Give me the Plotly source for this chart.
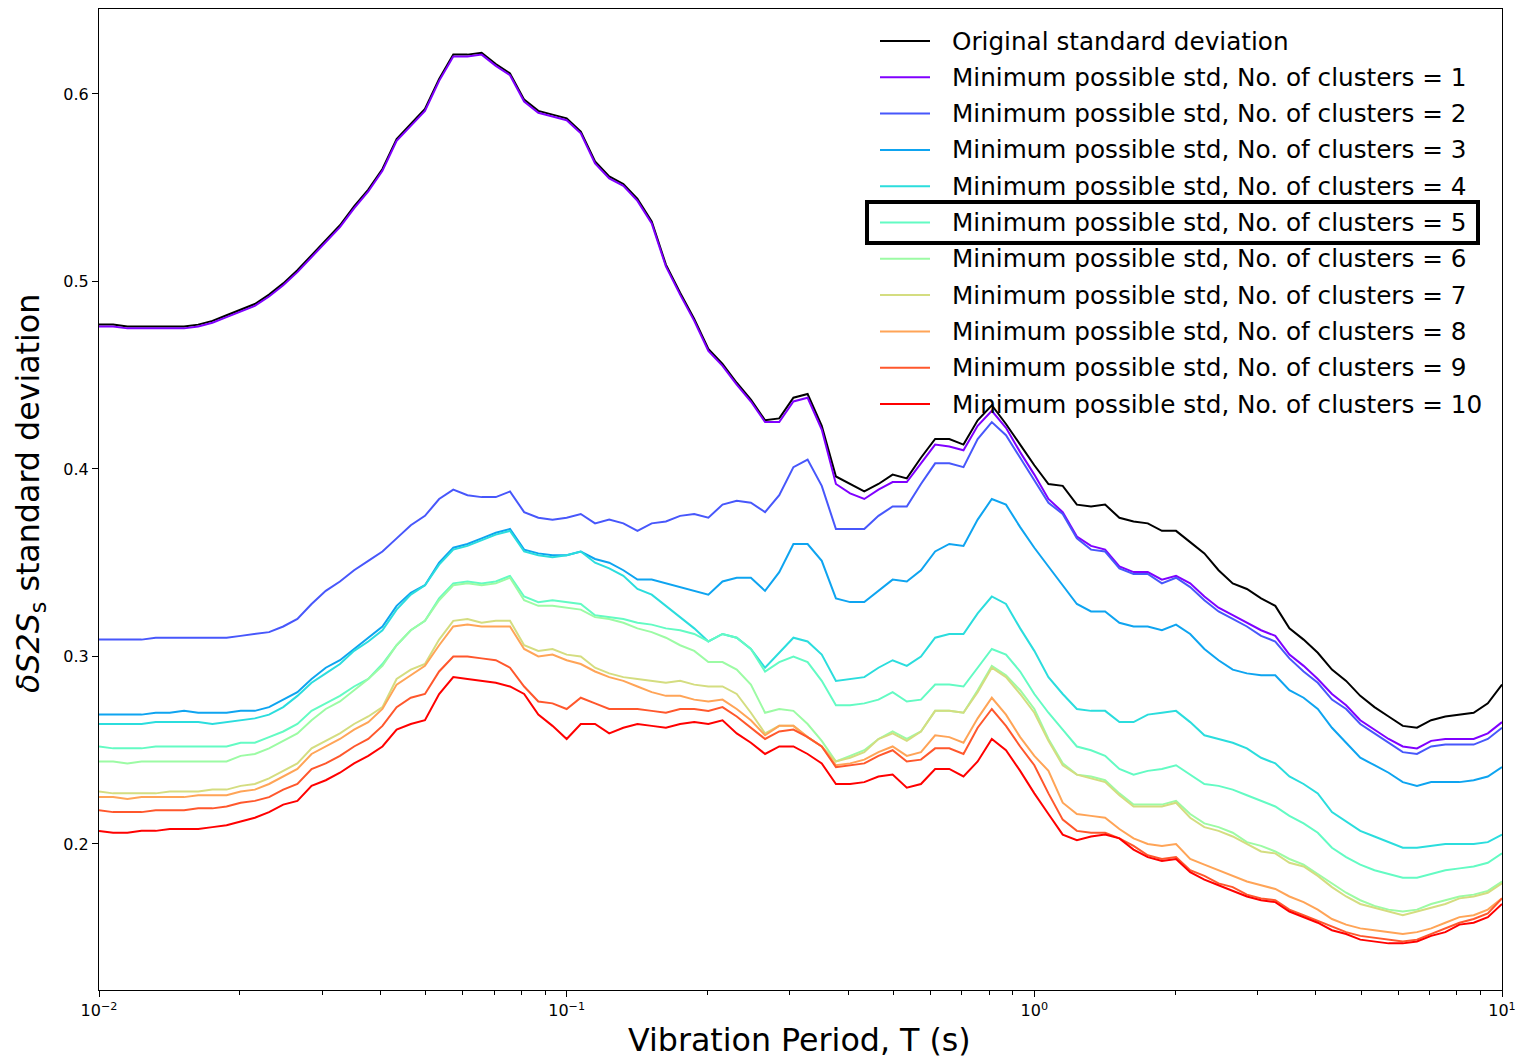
import plotly.graph_objects as go

# Vibration periods (s)
period_s = [0.01, 0.01072, 0.0115, 0.01233, 0.01322, 0.01417, 0.0152, 0.0163, 0.01748, 0.01874,
            0.02009, 0.02154, 0.0231, 0.02477, 0.02656, 0.02848, 0.03054, 0.03275, 0.03511, 0.03765,
            0.04037, 0.04329, 0.04642, 0.04977, 0.05337, 0.05722, 0.06136, 0.06579, 0.07055, 0.07565,
            0.08111, 0.08697, 0.09326,
            0.1, 0.1072, 0.115, 0.1233, 0.1322, 0.1417, 0.152, 0.163, 0.1748, 0.1874,
            0.2009, 0.2154, 0.231, 0.2477, 0.2656, 0.2848, 0.3054, 0.3275, 0.3511, 0.3765,
            0.4037, 0.4329, 0.4642, 0.4977, 0.5337, 0.5722, 0.6136, 0.6579, 0.7055, 0.7565,
            0.8111, 0.8697, 0.9326,
            1.0, 1.072, 1.15, 1.233, 1.322, 1.417, 1.52, 1.63, 1.748, 1.874,
            2.009, 2.154, 2.31, 2.477, 2.656, 2.848, 3.054, 3.275, 3.511, 3.765,
            4.037, 4.329, 4.642, 4.977, 5.337, 5.722, 6.136, 6.579, 7.055, 7.565,
            8.111, 8.697, 9.326, 10.0]

orig_std = [0.477, 0.477, 0.476, 0.476, 0.476, 0.476, 0.476, 0.477, 0.479, 0.482,
            0.485, 0.488, 0.493, 0.499, 0.506, 0.514, 0.522, 0.530, 0.540, 0.549,
            0.560, 0.576, 0.584, 0.592, 0.608, 0.621, 0.621, 0.622, 0.616, 0.611,
            0.597, 0.591, 0.589, 0.587, 0.580, 0.564, 0.556, 0.552, 0.544, 0.532,
            0.509, 0.494, 0.480, 0.464, 0.456, 0.446, 0.437, 0.426, 0.427, 0.438,
            0.440, 0.423, 0.396, 0.392, 0.388, 0.392, 0.397, 0.395, 0.406, 0.416,
            0.416, 0.413, 0.426, 0.434, 0.424, 0.413, 0.402, 0.392, 0.391, 0.381,
            0.380, 0.381, 0.374, 0.372, 0.371, 0.367, 0.367, 0.361, 0.355, 0.346,
            0.339, 0.336, 0.331, 0.327, 0.315, 0.309, 0.302, 0.293, 0.287, 0.279,
            0.273, 0.268, 0.263, 0.262, 0.266, 0.268, 0.269, 0.270, 0.275, 0.285]

min_std_1 = [0.476, 0.476, 0.475, 0.475, 0.475, 0.475, 0.475, 0.476, 0.478, 0.481,
             0.484, 0.487, 0.492, 0.498, 0.505, 0.513, 0.521, 0.529, 0.539, 0.548,
             0.559, 0.575, 0.583, 0.591, 0.607, 0.620, 0.620, 0.621, 0.615, 0.610,
             0.596, 0.590, 0.588, 0.586, 0.579, 0.563, 0.555, 0.551, 0.543, 0.531,
             0.508, 0.493, 0.479, 0.463, 0.455, 0.445, 0.436, 0.425, 0.425, 0.436,
             0.438, 0.421, 0.392, 0.387, 0.384, 0.389, 0.393, 0.393, 0.403, 0.413,
             0.412, 0.410, 0.423, 0.431, 0.422, 0.409, 0.397, 0.384, 0.377, 0.364,
             0.359, 0.357, 0.348, 0.345, 0.345, 0.341, 0.343, 0.339, 0.332, 0.326,
             0.322, 0.318, 0.314, 0.311, 0.301, 0.295, 0.288, 0.280, 0.274, 0.266,
             0.261, 0.256, 0.252, 0.251, 0.255, 0.256, 0.256, 0.256, 0.259, 0.265]

min_std_2 = [0.309, 0.309, 0.309, 0.309, 0.310, 0.310, 0.310, 0.310, 0.310, 0.310,
             0.311, 0.312, 0.313, 0.316, 0.320, 0.328, 0.335, 0.340, 0.346, 0.351,
             0.356, 0.363, 0.370, 0.375, 0.384, 0.389, 0.386, 0.385, 0.385, 0.388,
             0.377, 0.374, 0.373, 0.374, 0.376, 0.371, 0.373, 0.371, 0.367, 0.371,
             0.372, 0.375, 0.376, 0.374, 0.381, 0.383, 0.382, 0.377, 0.386, 0.401,
             0.405, 0.391, 0.368, 0.368, 0.368, 0.375, 0.380, 0.380, 0.392, 0.403,
             0.403, 0.401, 0.416, 0.425, 0.418, 0.406, 0.394, 0.382, 0.376, 0.363,
             0.357, 0.356, 0.347, 0.344, 0.344, 0.339, 0.342, 0.337, 0.330, 0.324,
             0.320, 0.316, 0.311, 0.308, 0.299, 0.292, 0.286, 0.277, 0.272, 0.264,
             0.259, 0.254, 0.249, 0.248, 0.252, 0.253, 0.253, 0.253, 0.256, 0.262]

min_std_3 = [0.269, 0.269, 0.269, 0.269, 0.270, 0.270, 0.271, 0.270, 0.270, 0.270,
             0.271, 0.271, 0.273, 0.277, 0.281, 0.288, 0.294, 0.298, 0.304, 0.310,
             0.316, 0.327, 0.334, 0.338, 0.350, 0.358, 0.360, 0.363, 0.366, 0.368,
             0.357, 0.355, 0.354, 0.354, 0.356, 0.352, 0.350, 0.346, 0.341, 0.341,
             0.339, 0.337, 0.335, 0.333, 0.340, 0.342, 0.342, 0.335, 0.345, 0.360,
             0.360, 0.351, 0.331, 0.329, 0.329, 0.335, 0.341, 0.340, 0.346, 0.356,
             0.360, 0.359, 0.373, 0.384, 0.381, 0.369, 0.358, 0.348, 0.338, 0.328,
             0.324, 0.324, 0.318, 0.316, 0.316, 0.314, 0.317, 0.312, 0.304, 0.298,
             0.293, 0.291, 0.290, 0.290, 0.282, 0.278, 0.272, 0.262, 0.254, 0.246,
             0.242, 0.238, 0.233, 0.231, 0.233, 0.233, 0.233, 0.234, 0.236, 0.241]

min_std_4 = [0.264, 0.264, 0.264, 0.264, 0.265, 0.265, 0.265, 0.265, 0.264, 0.265,
             0.266, 0.267, 0.269, 0.273, 0.279, 0.286, 0.291, 0.296, 0.303, 0.308,
             0.314, 0.325, 0.333, 0.338, 0.349, 0.357, 0.359, 0.362, 0.365, 0.367,
             0.356, 0.354, 0.353, 0.354, 0.356, 0.350, 0.347, 0.343, 0.336, 0.333,
             0.327, 0.321, 0.315, 0.308, 0.312, 0.310, 0.304, 0.294, 0.302, 0.310,
             0.308, 0.301, 0.287, 0.288, 0.289, 0.294, 0.298, 0.295, 0.300, 0.310,
             0.312, 0.312, 0.323, 0.332, 0.328, 0.315, 0.303, 0.289, 0.280, 0.272,
             0.271, 0.271, 0.265, 0.265, 0.269, 0.270, 0.271, 0.265, 0.258, 0.256,
             0.254, 0.251, 0.246, 0.243, 0.236, 0.232, 0.227, 0.217, 0.212, 0.207,
             0.204, 0.201, 0.198, 0.198, 0.199, 0.200, 0.200, 0.200, 0.201, 0.205]

min_std_5 = [0.252, 0.251, 0.251, 0.251, 0.252, 0.252, 0.252, 0.252, 0.252, 0.252,
             0.254, 0.254, 0.257, 0.260, 0.264, 0.271, 0.275, 0.279, 0.284, 0.288,
             0.296, 0.306, 0.314, 0.319, 0.331, 0.339, 0.340, 0.339, 0.340, 0.343,
             0.332, 0.329, 0.330, 0.329, 0.328, 0.322, 0.321, 0.320, 0.318, 0.317,
             0.315, 0.314, 0.312, 0.308, 0.312, 0.310, 0.304, 0.292, 0.297, 0.300,
             0.297, 0.287, 0.274, 0.274, 0.275, 0.277, 0.281, 0.276, 0.277, 0.285,
             0.285, 0.284, 0.294, 0.304, 0.301, 0.292, 0.280, 0.270, 0.261, 0.252,
             0.250, 0.247, 0.240, 0.237, 0.239, 0.240, 0.242, 0.237, 0.232, 0.231,
             0.229, 0.226, 0.223, 0.220, 0.215, 0.211, 0.206, 0.198, 0.193, 0.189,
             0.186, 0.184, 0.182, 0.182, 0.184, 0.186, 0.187, 0.188, 0.190, 0.195]

min_std_6 = [0.244, 0.244, 0.243, 0.244, 0.244, 0.244, 0.244, 0.244, 0.244, 0.244,
             0.247, 0.248, 0.251, 0.255, 0.259, 0.266, 0.272, 0.276, 0.282, 0.288,
             0.295, 0.306, 0.314, 0.319, 0.330, 0.338, 0.339, 0.338, 0.339, 0.342,
             0.330, 0.327, 0.327, 0.326, 0.325, 0.321, 0.320, 0.318, 0.315, 0.313,
             0.310, 0.306, 0.303, 0.297, 0.297, 0.293, 0.285, 0.270, 0.272, 0.271,
             0.264, 0.255, 0.244, 0.247, 0.250, 0.256, 0.260, 0.256, 0.260, 0.271,
             0.271, 0.270, 0.282, 0.295, 0.290, 0.282, 0.272, 0.256, 0.243, 0.237,
             0.236, 0.234, 0.227, 0.221, 0.221, 0.221, 0.223, 0.216, 0.211, 0.209,
             0.206, 0.201, 0.199, 0.196, 0.192, 0.189, 0.184, 0.179, 0.174, 0.170,
             0.167, 0.165, 0.164, 0.165, 0.168, 0.170, 0.172, 0.173, 0.175, 0.180]

min_std_7 = [0.228, 0.227, 0.227, 0.227, 0.227, 0.228, 0.228, 0.228, 0.229, 0.229,
             0.231, 0.232, 0.235, 0.239, 0.243, 0.251, 0.255, 0.259, 0.264, 0.268,
             0.273, 0.288, 0.293, 0.296, 0.309, 0.319, 0.320, 0.318, 0.319, 0.319,
             0.306, 0.303, 0.304, 0.301, 0.300, 0.294, 0.291, 0.289, 0.288, 0.287,
             0.286, 0.287, 0.285, 0.284, 0.284, 0.280, 0.270, 0.259, 0.263, 0.263,
             0.257, 0.252, 0.244, 0.246, 0.249, 0.256, 0.259, 0.255, 0.260, 0.271,
             0.271, 0.270, 0.281, 0.294, 0.289, 0.280, 0.270, 0.255, 0.242, 0.237,
             0.235, 0.233, 0.226, 0.220, 0.220, 0.220, 0.222, 0.214, 0.209, 0.207,
             0.204, 0.200, 0.196, 0.195, 0.190, 0.188, 0.183, 0.177, 0.172, 0.168,
             0.166, 0.164, 0.162, 0.164, 0.166, 0.168, 0.171, 0.172, 0.174, 0.179]

min_std_8 = [0.225, 0.225, 0.224, 0.225, 0.225, 0.225, 0.225, 0.226, 0.226, 0.226,
             0.228, 0.229, 0.232, 0.236, 0.240, 0.248, 0.252, 0.256, 0.261, 0.265,
             0.272, 0.285, 0.290, 0.295, 0.306, 0.316, 0.317, 0.316, 0.316, 0.316,
             0.304, 0.300, 0.301, 0.298, 0.296, 0.292, 0.289, 0.287, 0.284, 0.281,
             0.279, 0.279, 0.277, 0.276, 0.277, 0.272, 0.266, 0.258, 0.263, 0.263,
             0.257, 0.252, 0.242, 0.243, 0.245, 0.249, 0.252, 0.247, 0.249, 0.258,
             0.257, 0.254, 0.267, 0.278, 0.269, 0.257, 0.247, 0.239, 0.222, 0.216,
             0.215, 0.214, 0.208, 0.203, 0.200, 0.199, 0.200, 0.192, 0.189, 0.186,
             0.183, 0.180, 0.178, 0.176, 0.172, 0.169, 0.165, 0.160, 0.157, 0.155,
             0.154, 0.153, 0.152, 0.153, 0.155, 0.158, 0.161, 0.162, 0.165, 0.171]

min_std_9 = [0.218, 0.217, 0.217, 0.217, 0.218, 0.218, 0.218, 0.219, 0.219, 0.220,
             0.222, 0.223, 0.225, 0.229, 0.232, 0.240, 0.243, 0.247, 0.252, 0.256,
             0.263, 0.273, 0.278, 0.280, 0.292, 0.300, 0.300, 0.299, 0.298, 0.294,
             0.284, 0.276, 0.275, 0.272, 0.278, 0.275, 0.272, 0.272, 0.272, 0.271,
             0.270, 0.272, 0.272, 0.271, 0.273, 0.268, 0.262, 0.256, 0.260, 0.261,
             0.257, 0.252, 0.241, 0.242, 0.243, 0.247, 0.250, 0.244, 0.245, 0.251,
             0.251, 0.248, 0.262, 0.272, 0.263, 0.252, 0.242, 0.227, 0.213, 0.207,
             0.206, 0.206, 0.203, 0.199, 0.194, 0.192, 0.193, 0.186, 0.183, 0.179,
             0.177, 0.173, 0.171, 0.170, 0.165, 0.162, 0.159, 0.156, 0.153, 0.151,
             0.150, 0.149, 0.148, 0.149, 0.152, 0.155, 0.158, 0.160, 0.163, 0.171]

min_std_10 = [0.207, 0.206, 0.206, 0.207, 0.207, 0.208, 0.208, 0.208, 0.209, 0.210,
              0.212, 0.214, 0.217, 0.221, 0.223, 0.231, 0.234, 0.238, 0.243, 0.247,
              0.252, 0.261, 0.264, 0.266, 0.280, 0.289, 0.288, 0.287, 0.286, 0.284,
              0.280, 0.269, 0.263, 0.256, 0.264, 0.264, 0.259, 0.262, 0.264, 0.263,
              0.262, 0.264, 0.265, 0.264, 0.266, 0.259, 0.254, 0.248, 0.252, 0.252,
              0.248, 0.243, 0.232, 0.232, 0.233, 0.236, 0.237, 0.230, 0.232, 0.240,
              0.240, 0.236, 0.244, 0.256, 0.250, 0.239, 0.227, 0.216, 0.205, 0.202,
              0.204, 0.205, 0.203, 0.197, 0.193, 0.191, 0.192, 0.185, 0.181, 0.178,
              0.175, 0.172, 0.170, 0.169, 0.164, 0.161, 0.158, 0.154, 0.152, 0.149,
              0.148, 0.147, 0.147, 0.148, 0.151, 0.153, 0.157, 0.158, 0.161, 0.168]

series_labels = ["Original standard deviation"] + \
    [f"Minimum possible std, No. of clusters = {n}" for n in range(1, 11)]

series_colors = ["#000000", "#8000ff", "#4757fb", "#0ea4f0", "#2bdddd", "#63fbc3",
                 "#9cfba4", "#d4dd80", "#ffa457", "#ff572c", "#ff0000"]

x_tick_vals = [0.01, 0.1, 1, 10]
x_tick_text = ["10<sup>\u22122</sup>", "10<sup>\u22121</sup>", "10<sup>0</sup>", "10<sup>1</sup>"]
x_minor_vals = [2e-2, 3e-2, 4e-2, 5e-2, 6e-2, 7e-2, 8e-2, 9e-2,
                0.2, 0.3, 0.4, 0.5, 0.6, 0.7, 0.8, 0.9,
                2, 3, 4, 5, 6, 7, 8, 9]
y_tick_vals = [0.2, 0.3, 0.4, 0.5, 0.6]
y_tick_text = ["0.2", "0.3", "0.4", "0.5", "0.6"]

all_series = [orig_std, min_std_1, min_std_2, min_std_3, min_std_4, min_std_5,
              min_std_6, min_std_7, min_std_8, min_std_9, min_std_10]
for s in all_series:
    assert len(s) == len(period_s), len(s)

FONT = "DejaVu Sans"
W, H = 1516, 1057
L, R, T, B = 99, 14, 9, 67
PW, PH = W - L - R, H - T - B


def px(x):
    return (x - L) / PW


def py(y):
    return 1 - (y - T) / PH


fig = go.Figure()
for vals, lab, col in zip(all_series, series_labels, series_colors):
    fig.add_trace(go.Scatter(x=period_s, y=vals, mode="lines", name=lab,
                             line=dict(color=col, width=2), showlegend=False))

shapes = []
annotations = []
# Manual legend (frameless, like the original)
for i, (lab, col) in enumerate(zip(series_labels, series_colors)):
    yy = 41 + i * 36.3
    shapes.append(dict(type="line", xref="paper", yref="paper",
                       x0=px(880), x1=px(930), y0=py(yy), y1=py(yy),
                       line=dict(color=col, width=2)))
    annotations.append(dict(xref="paper", yref="paper", x=px(950), y=py(yy),
                            xanchor="left", yanchor="middle", showarrow=False,
                            text=lab, font=dict(family=FONT, size=24.7, color="#000000")))
# Highlight box around cluster 5 entry
shapes.append(dict(type="rect", xref="paper", yref="paper",
                   x0=px(867), x1=px(1478), y0=py(243), y1=py(202),
                   line=dict(color="black", width=4), fillcolor="rgba(0,0,0,0)"))

# Axis titles
annotations.append(dict(xref="paper", yref="paper", x=px(799), y=py(1040),
                        xanchor="center", yanchor="middle", showarrow=False,
                        text="Vibration Period, T (s)",
                        font=dict(family=FONT, size=31.7, color="#000000")))
annotations.append(dict(xref="paper", yref="paper", x=px(30), y=py(494),
                        xanchor="center", yanchor="middle", showarrow=False, textangle=-90,
                        text="<i>\u03b4S2S</i><sub>s</sub> standard deviation",
                        font=dict(family=FONT, size=31.7, color="#000000")))

fig.update_layout(
    width=W, height=H, autosize=False,
    margin=dict(l=L, r=R, t=T, b=B, pad=0, autoexpand=False),
    paper_bgcolor="white", plot_bgcolor="white",
    font=dict(family=FONT, color="#000000"),
    shapes=shapes, annotations=annotations,
    showlegend=False,
)
fig.update_xaxes(type="log", range=[-2, 1], showgrid=False, zeroline=False, automargin=False,
                 showline=True, mirror=True, linecolor="black", linewidth=1.2,
                 ticks="outside", ticklen=6, tickwidth=1.2, tickcolor="black",
                 tickvals=x_tick_vals, ticktext=x_tick_text,
                 tickfont=dict(family=FONT, size=16, color="#000000"),
                 minor=dict(ticks="outside", ticklen=3.5, tickwidth=1, tickcolor="black",
                            tickvals=x_minor_vals, showgrid=False))
fig.update_yaxes(range=[0.12213, 0.64533], showgrid=False, zeroline=False, automargin=False,
                 showline=True, mirror=True, linecolor="black", linewidth=1.2,
                 ticks="outside", ticklen=6, tickwidth=1.2, tickcolor="black",
                 tickvals=y_tick_vals, ticktext=y_tick_text,
                 tickfont=dict(family=FONT, size=16, color="#000000"))

fig.write_html("out.html", config={"displayModeBar": False, "responsive": False})
